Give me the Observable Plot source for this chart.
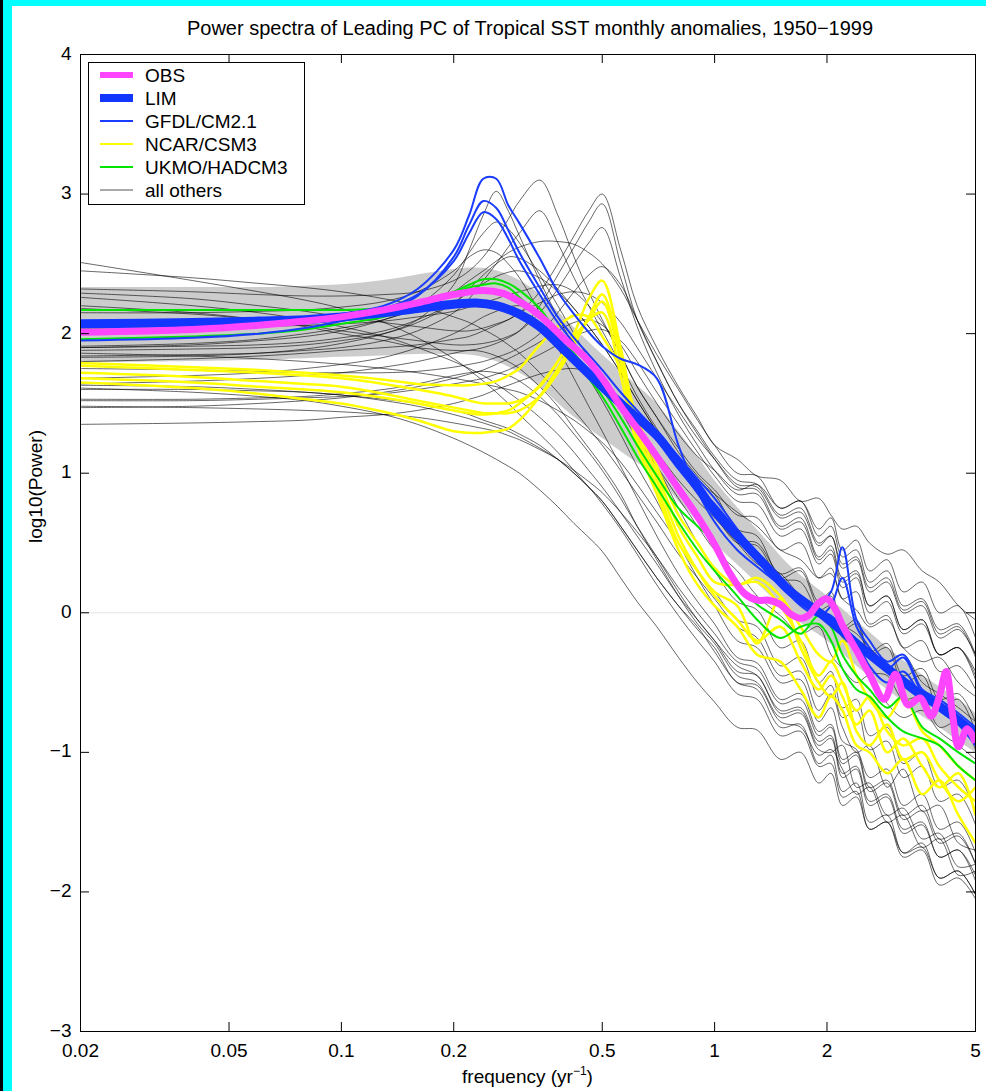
<!DOCTYPE html>
<html><head><meta charset="utf-8">
<script src="https://cdn.jsdelivr.net/npm/d3@7"></script>
<script src="https://cdn.jsdelivr.net/npm/@observablehq/plot@0.6"></script>
<style>
html,body{margin:0;padding:0;background:#fff;}
#page{position:relative;width:986px;height:1091px;overflow:hidden;background:#fff;font-family:"Liberation Sans",Arial,Helvetica,sans-serif;color:#000;}
#title{position:absolute;left:80px;width:900px;top:16px;text-align:center;font-size:20px;line-height:24px;white-space:nowrap;}
#chart{position:absolute;left:0;top:40px;}
#xlabel{position:absolute;left:80px;width:895px;top:1066px;text-align:center;font-size:19px;line-height:22px;white-space:nowrap;}
#xlabel sup{font-size:12px;vertical-align:8px;line-height:0;}
#legend{position:absolute;left:88px;top:62px;}
.deco{position:absolute;}
</style></head>
<body><div id="page">
<div class="deco" style="left:0;top:0;width:986px;height:6px;background:#00ffff"></div>
<div class="deco" style="left:0;top:0;width:12px;height:1091px;background:#00ffff"></div>
<div class="deco" style="left:0;top:0;width:3px;height:1091px;background:#000"></div>
<div id="title">Power spectra of Leading PC of Tropical SST monthly anomalies, 1950−1999</div>
<div id="chart"></div>
<div id="xlabel">frequency (yr<sup>−1</sup>)</div>
<div id="legend"></div>
</div>
<script>
// ---- frequency grids (yr^-1) ----
const G = [0.02,0.04,0.06,0.08,0.1,0.13,0.16,0.2,0.22,0.24,0.26,0.28,0.3,0.34,0.38,0.42,0.46,0.5,0.56,0.62,0.7,0.8,0.9,1.0,1.15,1.3,1.5,1.7,1.9,2.05,2.2,2.4,2.6,2.9,3.2,3.6,4.0,4.5,5.0];

// ---- OBS ----
const obsFreq = [0.02,0.04,0.06,0.08,0.1,0.13,0.16,0.2,0.24,0.27,0.3,0.34,0.4,0.45,0.5,0.56,0.62,0.7,0.8,0.9,1.0,1.1,1.2,1.3,1.4,1.5,1.6,1.7,1.8,1.9,2.0,2.1,2.2,2.4,2.6,2.85,3.05,3.3,3.55,3.8,4.0,4.17,4.35,4.5,4.75,5.0];
const obsPow = [2.01,2.03,2.06,2.09,2.12,2.17,2.22,2.28,2.31,2.29,2.23,2.13,1.95,1.83,1.68,1.48,1.32,1.12,0.89,0.69,0.49,0.28,0.14,0.09,0.09,0.06,-0.01,-0.04,-0.01,0.07,0.10,0.03,-0.09,-0.27,-0.44,-0.62,-0.44,-0.66,-0.61,-0.74,-0.6,-0.42,-0.75,-0.96,-0.83,-0.93];

// ---- LIM and its spread ----
const limFreq = [0.02,0.04,0.06,0.08,0.1,0.13,0.16,0.2,0.23,0.26,0.3,0.34,0.4,0.5,0.6,0.7,0.8,0.9,1.0,1.2,1.4,1.6,2.0,2.5,3.0,3.5,4.0,4.5,5.0];
const limPow = [2.07,2.08,2.09,2.10,2.12,2.15,2.18,2.21,2.22,2.20,2.14,2.05,1.87,1.62,1.43,1.27,1.07,0.9,0.73,0.5,0.31,0.15,-0.04,-0.26,-0.43,-0.57,-0.67,-0.77,-0.87];
const bandLo = [1.79,1.80,1.81,1.82,1.83,1.84,1.85,1.85,1.84,1.80,1.72,1.62,1.45,1.25,1.10,0.98,0.80,0.65,0.50,0.30,0.13,-0.02,-0.20,-0.42,-0.58,-0.72,-0.82,-0.92,-1.0];
const bandHi = [2.33,2.33,2.33,2.34,2.35,2.38,2.42,2.46,2.47,2.45,2.38,2.28,2.10,1.85,1.66,1.50,1.30,1.12,0.95,0.70,0.50,0.33,0.12,-0.10,-0.28,-0.42,-0.53,-0.62,-0.72];

// ---- GFDL/CM2.1 (on G) ----
const gfdl = [
 [2.07,2.08,2.09,2.11,2.14,2.2,2.32,2.6,2.85,3.11,3.11,2.92,2.79,2.54,2.3,2.14,2.01,1.91,1.82,1.78,1.68,1.2,0.87,0.65,0.45,0.33,0.2,0.1,0.02,-0.02,-0.1,-0.2,-0.38,-0.5,-0.42,-0.6,-0.68,-0.8,-0.95],
 [1.95,1.97,2.0,2.04,2.09,2.16,2.27,2.55,2.78,2.95,2.9,2.74,2.58,2.33,2.12,1.97,1.85,1.74,1.58,1.45,1.3,1.12,0.96,0.82,0.6,0.42,0.24,0.1,0.06,0.15,0.47,-0.05,-0.2,-0.35,-0.3,-0.55,-0.62,-0.72,-0.82],
 [2.05,2.06,2.07,2.09,2.12,2.18,2.28,2.52,2.72,2.87,2.82,2.68,2.52,2.28,2.08,1.93,1.8,1.68,1.52,1.4,1.25,1.05,0.9,0.78,0.58,0.38,0.2,0.05,-0.02,0.05,0.25,-0.1,-0.25,-0.4,-0.32,-0.58,-0.7,-0.8,-0.92]
];

// ---- NCAR/CSM3 (on G) ----
const ncar = [
 [1.79,1.76,1.74,1.72,1.7,1.67,1.64,1.63,1.63,1.64,1.66,1.7,1.75,1.92,2.05,2.13,2.12,1.98,1.75,1.4,1.05,0.7,0.5,0.32,0.2,0.25,0.12,-0.1,-0.3,-0.35,-0.2,-0.45,-0.62,-0.75,-0.6,-0.85,-0.95,-1.1,-1.2],
 [1.77,1.74,1.72,1.7,1.68,1.64,1.6,1.55,1.52,1.5,1.5,1.5,1.52,1.62,1.8,2.0,2.25,2.38,1.9,1.35,1.0,0.62,0.4,0.22,0.2,0.22,0.05,-0.2,-0.45,-0.35,-0.5,-0.7,-0.6,-0.85,-0.95,-0.9,-1.1,-1.25,-1.35],
 [1.72,1.69,1.66,1.64,1.62,1.57,1.52,1.47,1.45,1.43,1.43,1.43,1.45,1.55,1.72,1.92,2.12,2.28,1.85,1.3,0.95,0.55,0.3,0.12,-0.05,-0.2,-0.1,-0.35,-0.55,-0.45,-0.6,-0.8,-0.7,-1.0,-0.9,-1.1,-1.25,-1.15,-1.45],
 [1.68,1.65,1.62,1.6,1.58,1.54,1.5,1.45,1.43,1.42,1.43,1.45,1.5,1.63,1.8,1.98,2.1,2.23,1.8,1.25,0.9,0.5,0.3,0.15,0.05,-0.22,0.1,-0.25,-0.5,-0.6,-0.5,-0.85,-0.95,-0.8,-1.05,-1.0,-1.2,-1.35,-1.25],
 [1.65,1.61,1.57,1.53,1.5,1.44,1.38,1.3,1.29,1.29,1.3,1.32,1.38,1.55,1.75,1.95,2.1,2.15,1.7,1.2,0.85,0.45,0.2,0.05,-0.1,-0.3,-0.35,-0.55,-0.75,-0.6,-0.7,-0.95,-1.0,-1.15,-1.05,-1.3,-1.2,-1.45,-1.65]
];

// ---- UKMO/HADCM3 (on G) ----
const ukmo = [
 [2.17,2.17,2.17,2.17,2.17,2.18,2.2,2.3,2.35,2.39,2.39,2.36,2.31,2.18,2.0,1.86,1.72,1.6,1.4,1.2,0.98,0.75,0.62,0.5,0.2,0.06,-0.05,-0.15,-0.02,-0.1,-0.3,-0.45,-0.55,-0.68,-0.6,-0.82,-0.9,-1.0,-1.08],
 [1.96,1.98,2.0,2.03,2.07,2.12,2.2,2.29,2.33,2.35,2.36,2.33,2.26,2.12,1.97,1.82,1.68,1.55,1.33,1.12,0.9,0.65,0.45,0.3,0.12,-0.05,-0.18,-0.1,-0.08,-0.2,-0.4,-0.55,-0.6,-0.75,-0.85,-0.9,-0.95,-1.1,-1.2]
];

// ---- all other models (on G) ----
const others = [
 [2.51,2.38,2.3,2.24,2.18,2.08,1.97,1.82,1.74,1.66,1.58,1.5,1.42,1.28,1.15,1.02,0.9,0.8,0.62,0.45,0.25,0.05,-0.12,-0.25,-0.5,-0.52,-0.78,-0.82,-1.02,-0.98,-1.12,-1.3,-1.25,-1.5,-1.45,-1.68,-1.62,-1.88,-1.85],
 [2.45,2.4,2.36,2.33,2.3,2.25,2.2,2.12,2.08,2.03,1.98,1.92,1.86,1.72,1.58,1.45,1.32,1.2,1.02,0.85,0.65,0.42,0.25,0.1,-0.1,-0.18,-0.45,-0.42,-0.7,-0.58,-0.82,-1.0,-0.95,-1.25,-1.12,-1.42,-1.38,-1.65,-1.7],
 [2.32,2.3,2.28,2.27,2.27,2.28,2.3,2.38,2.45,2.55,2.68,2.82,2.95,3.1,2.85,2.55,2.3,2.1,1.85,1.62,1.4,1.15,0.98,0.85,0.6,0.55,0.25,0.22,0.02,0.05,-0.18,-0.25,-0.42,-0.45,-0.62,-0.6,-0.82,-0.78,-0.98],
 [2.29,2.25,2.2,2.16,2.12,2.08,2.05,2.02,2.02,2.04,2.07,2.1,2.15,2.3,2.5,2.7,2.88,3.0,2.6,2.2,1.9,1.62,1.4,1.2,1.1,0.98,0.95,0.8,0.82,0.7,0.6,0.62,0.5,0.42,0.45,0.3,0.22,0.05,-0.05],
 [2.2,2.15,2.1,2.05,2.0,1.95,1.9,1.88,1.88,1.9,1.93,1.97,2.02,2.2,2.42,2.62,2.8,2.93,2.5,2.1,1.8,1.5,1.3,1.12,0.95,0.92,0.7,0.75,0.5,0.55,0.35,0.4,0.18,0.25,0.02,0.08,-0.15,-0.1,-0.32],
 [2.18,2.14,2.1,2.06,2.02,1.98,1.95,1.92,1.92,1.93,1.95,1.98,2.02,2.15,2.32,2.5,2.65,2.76,2.4,2.05,1.72,1.42,1.2,1.02,0.85,0.85,0.6,0.65,0.38,0.45,0.22,0.28,0.05,0.12,-0.12,-0.05,-0.3,-0.25,-0.45],
 [1.91,1.93,1.96,2.0,2.04,2.1,2.18,2.3,2.38,2.45,2.52,2.58,2.62,2.66,2.66,2.64,2.58,2.5,2.32,2.1,1.85,1.6,1.38,1.2,1.0,0.98,0.75,0.8,0.55,0.62,0.4,0.45,0.22,0.3,0.05,0.1,-0.12,-0.08,-0.3],
 [1.9,1.92,1.95,1.98,2.02,2.1,2.2,2.42,2.58,2.72,2.8,2.75,2.65,2.42,2.2,2.0,1.82,1.68,1.45,1.25,1.05,0.82,0.62,0.45,0.3,0.12,-0.02,-0.15,-0.1,-0.3,-0.4,-0.5,-0.45,-0.65,-0.75,-0.7,-0.85,-0.95,-1.05],
 [1.88,1.89,1.9,1.92,1.95,2.0,2.08,2.22,2.32,2.42,2.5,2.55,2.54,2.45,2.32,2.18,2.05,1.92,1.72,1.52,1.3,1.05,0.85,0.7,0.5,0.48,0.25,0.3,0.05,0.12,-0.12,-0.08,-0.3,-0.25,-0.5,-0.45,-0.68,-0.62,-0.85],
 [1.84,1.85,1.86,1.88,1.9,1.95,2.02,2.15,2.25,2.38,2.5,2.62,2.72,2.88,2.65,2.4,2.2,2.02,1.78,1.55,1.32,1.1,0.95,0.85,0.72,0.62,0.45,0.38,0.25,0.28,0.1,0.02,-0.1,-0.05,-0.25,-0.35,-0.32,-0.5,-0.6],
 [1.8,1.82,1.84,1.86,1.88,1.9,1.92,1.96,1.98,2.02,2.06,2.1,2.15,2.22,2.28,2.3,2.28,2.22,2.08,1.9,1.68,1.45,1.25,1.1,0.92,0.9,0.68,0.72,0.48,0.55,0.32,0.38,0.15,0.22,0.0,0.05,-0.18,-0.12,-0.3],
 [1.75,1.74,1.73,1.72,1.72,1.72,1.73,1.76,1.78,1.8,1.83,1.86,1.9,2.0,2.15,2.3,2.42,2.48,2.35,2.1,1.8,1.5,1.28,1.1,0.9,0.88,0.62,0.68,0.4,0.48,0.25,0.3,0.05,0.12,-0.12,-0.05,-0.3,-0.25,-0.48],
 [1.68,1.7,1.72,1.75,1.78,1.83,1.9,2.0,2.06,2.12,2.16,2.19,2.2,2.15,2.02,1.85,1.68,1.52,1.28,1.05,0.8,0.5,0.25,0.05,-0.2,-0.25,-0.5,-0.48,-0.78,-0.68,-0.92,-0.98,-1.18,-1.12,-1.38,-1.3,-1.55,-1.5,-1.72],
 [1.64,1.66,1.68,1.7,1.72,1.76,1.8,1.86,1.88,1.87,1.84,1.8,1.75,1.62,1.48,1.32,1.18,1.05,0.85,0.62,0.38,0.12,-0.08,-0.22,-0.45,-0.5,-0.75,-0.72,-0.98,-1.0,-0.95,-1.25,-1.22,-1.45,-1.4,-1.62,-1.58,-1.82,-1.8],
 [1.61,1.58,1.55,1.52,1.48,1.42,1.35,1.25,1.2,1.15,1.1,1.05,1.0,0.88,0.76,0.64,0.54,0.44,0.25,0.08,-0.1,-0.32,-0.5,-0.64,-0.82,-0.84,-1.05,-1.0,-1.22,-1.15,-1.38,-1.32,-1.55,-1.5,-1.72,-1.68,-1.9,-1.85,-2.02],
 [1.53,1.53,1.54,1.55,1.57,1.6,1.64,1.7,1.72,1.73,1.72,1.7,1.66,1.55,1.42,1.28,1.15,1.02,0.82,0.62,0.4,0.15,-0.05,-0.2,-0.38,-0.45,-0.7,-0.68,-0.92,-0.88,-1.15,-1.1,-1.35,-1.3,-1.55,-1.5,-1.75,-1.7,-1.92],
 [1.52,1.52,1.53,1.54,1.55,1.57,1.6,1.64,1.66,1.68,1.71,1.74,1.78,1.85,1.92,1.98,2.02,2.03,1.95,1.8,1.58,1.35,1.15,0.98,0.8,0.78,0.55,0.6,0.35,0.42,0.18,0.25,0.0,0.08,-0.15,-0.08,-0.3,-0.25,-0.42],
 [1.48,1.47,1.46,1.45,1.44,1.42,1.4,1.36,1.34,1.32,1.3,1.27,1.24,1.17,1.1,1.02,0.94,0.86,0.72,0.58,0.4,0.18,0.0,-0.15,-0.35,-0.4,-0.65,-0.62,-0.88,-0.82,-1.08,-1.02,-1.28,-1.22,-1.48,-1.42,-1.65,-1.6,-1.8],
 [1.35,1.36,1.37,1.38,1.4,1.42,1.45,1.5,1.53,1.56,1.6,1.63,1.66,1.71,1.74,1.75,1.72,1.66,1.5,1.3,1.05,0.75,0.5,0.3,0.08,0.02,-0.25,-0.2,-0.5,-0.42,-0.68,-0.62,-0.88,-0.82,-1.08,-1.0,-1.25,-1.2,-1.42],
 [1.6,1.6,1.59,1.58,1.56,1.53,1.5,1.45,1.42,1.38,1.35,1.32,1.28,1.2,1.1,1.0,0.9,0.8,0.62,0.45,0.25,0.05,-0.1,-0.28,-0.5,-0.55,-0.82,-0.8,-1.08,-1.02,-1.28,-1.22,-1.5,-1.45,-1.72,-1.65,-1.9,-1.85,-2.02],
 [1.9,1.91,1.92,1.94,1.97,2.02,2.1,2.22,2.3,2.36,2.41,2.44,2.45,2.4,2.3,2.18,2.05,1.92,1.72,1.52,1.3,1.05,0.88,0.72,0.52,0.5,0.28,0.32,0.08,0.15,-0.1,-0.05,-0.28,-0.22,-0.45,-0.4,-0.62,-0.58,-0.78],
 [2.26,2.2,2.15,2.1,2.05,1.98,1.9,1.8,1.75,1.7,1.64,1.58,1.52,1.4,1.28,1.15,1.02,0.9,0.72,0.55,0.35,0.12,-0.05,-0.2,-0.42,-0.45,-0.72,-0.7,-0.95,-0.9,-1.18,-1.12,-1.38,-1.32,-1.58,-1.52,-1.75,-1.7,-1.88],
 [2.04,2.04,2.05,2.06,2.07,2.09,2.12,2.16,2.19,2.22,2.25,2.28,2.3,2.34,2.35,2.3,2.2,2.08,1.85,1.62,1.4,1.18,1.0,0.88,0.7,0.68,0.45,0.5,0.25,0.32,0.1,0.15,-0.08,-0.02,-0.25,-0.2,-0.42,-0.38,-0.55],
 [1.86,1.84,1.82,1.8,1.78,1.75,1.72,1.68,1.66,1.64,1.62,1.6,1.58,1.52,1.45,1.38,1.3,1.22,1.08,0.92,0.72,0.5,0.3,0.15,-0.05,-0.1,-0.38,-0.32,-0.6,-0.52,-0.75,-0.7,-0.98,-0.92,-1.18,-1.1,-1.35,-1.3,-1.52],
 [1.47,1.48,1.5,1.52,1.54,1.58,1.62,1.68,1.71,1.74,1.78,1.82,1.86,1.94,2.02,2.08,2.1,2.06,1.92,1.72,1.5,1.28,1.12,1.02,0.88,0.92,0.75,0.8,0.6,0.68,0.45,0.52,0.3,0.38,0.15,0.22,0.0,0.05,-0.18],
 [2.15,2.15,2.16,2.17,2.19,2.23,2.3,2.45,2.55,2.6,2.58,2.5,2.4,2.15,1.9,1.68,1.48,1.3,1.05,0.82,0.55,0.28,0.08,-0.08,-0.32,-0.36,-0.62,-0.58,-0.85,-0.8,-1.05,-1.0,-1.25,-1.2,-1.45,-1.38,-1.62,-1.58,-1.8],
 [1.83,1.84,1.86,1.89,1.93,2.0,2.1,2.35,2.6,2.85,3.02,2.88,2.7,2.38,2.12,1.92,1.78,1.65,1.48,1.32,1.15,0.95,0.8,0.68,0.5,0.35,0.28,0.12,0.05,0.1,-0.08,-0.15,-0.25,-0.35,-0.3,-0.5,-0.58,-0.68,-0.78],
 [1.63,1.62,1.6,1.58,1.56,1.52,1.48,1.42,1.39,1.36,1.33,1.3,1.26,1.18,1.1,1.0,0.9,0.78,0.6,0.42,0.2,-0.02,-0.2,-0.35,-0.58,-0.62,-0.88,-0.85,-1.1,-1.08,-1.32,-1.28,-1.55,-1.5,-1.75,-1.7,-1.95,-1.9,-2.05]
];

// ---- axis ticks and labels ----
const xTicks = [0.02,0.05,0.1,0.2,0.5,1,2,5];
const yTicks = [-3,-2,-1,0,1,2,3,4];
const legendItems = [
  {label:"OBS", color:"#ff45ff", width:6},
  {label:"LIM", color:"#1236ff", width:8},
  {label:"GFDL/CM2.1", color:"#1a3cff", width:2},
  {label:"NCAR/CSM3", color:"#ffff00", width:2},
  {label:"UKMO/HADCM3", color:"#00e400", width:2},
  {label:"all others", color:"#555555", width:1}
];

function toRows(series, freq, group) {
  const out = [];
  series.forEach((vals, k) => {
    const n = Math.min(vals.length, freq.length);
    for (let i = 0; i < n; i++) out.push({f: freq[i], p: vals[i], id: group + k});
  });
  return out;
}
const othersRows = toRows(others, G, "o");
const ncarRows = toRows(ncar, G, "n");
const ukmoRows = toRows(ukmo, G, "u");
const gfdlRows = toRows(gfdl, G, "g");
const limRows = toRows([limPow], limFreq, "lim");
const obsRows = toRows([obsPow], obsFreq, "obs");
const bandRows = limFreq.map((f, i) => ({f, lo: bandLo[i], hi: bandHi[i]}));

const W = 986, H = 1051, mL = 80, mR = 11, mT = 14, mB = 60, TICK = 9;
const plotW = W - mL - mR, plotH = H - mT - mB;
const fmtY = d => d < 0 ? "\u2212" + Math.abs(d) : String(d);
const curve = "catmull-rom";
const lineOpts = {x: "f", y: "p", z: "id", curve, clip: true, strokeLinecap: "butt"};

const chart = Plot.plot({
  width: W, height: H,
  marginLeft: mL, marginRight: mR, marginTop: mT, marginBottom: mB,
  x: {type: "log", domain: [0.02, 5], axis: null},
  y: {domain: [-3, 4], axis: null},
  style: {fontFamily: '"Liberation Sans", Arial, Helvetica, sans-serif', fontSize: "19px", color: "#000", background: "transparent", overflow: "visible"},
  marks: [
    Plot.ruleY([0], {stroke: "#e4e4e4", strokeWidth: 1}),
    Plot.areaY(bandRows, {x: "f", y1: "lo", y2: "hi", fill: "#cccccc", curve, clip: true}),
    Plot.line(othersRows, {...lineOpts, stroke: "#000", strokeWidth: 0.8, strokeOpacity: 0.75}),
    Plot.line(ncarRows, {...lineOpts, stroke: "#ffff00", strokeWidth: 2.5}),
    Plot.line(ukmoRows, {...lineOpts, stroke: "#00e400", strokeWidth: 2}),
    Plot.line(gfdlRows, {...lineOpts, stroke: "#1a3cff", strokeWidth: 2}),
    Plot.line(limRows, {...lineOpts, stroke: "#1236ff", strokeWidth: 9}),
    Plot.line(obsRows, {...lineOpts, stroke: "#ff45ff", strokeWidth: 7}),
    Plot.frame({stroke: "#000", strokeWidth: 1}),
    Plot.tickX(xTicks, {x: d => d, insetTop: plotH - TICK, stroke: "#000"}),
    Plot.tickX(xTicks, {x: d => d, insetBottom: plotH - TICK, stroke: "#000"}),
    Plot.tickY(yTicks, {y: d => d, insetRight: plotW - TICK, stroke: "#000"}),
    Plot.tickY(yTicks, {y: d => d, insetLeft: plotW - TICK, stroke: "#000"}),
    Plot.text(xTicks, {x: d => d, text: d => String(d), frameAnchor: "bottom", lineAnchor: "top", dy: 12, fontSize: 19, fill: "#000"}),
    Plot.text(yTicks, {y: d => d, text: fmtY, frameAnchor: "left", dx: -9, dy: -1, textAnchor: "end", fontSize: 19, fill: "#000"}),
    Plot.text(["log10(Power)"], {frameAnchor: "left", dx: -45, rotate: -90, fontSize: 19, fill: "#000"})
  ]
});
document.getElementById("chart").appendChild(chart);

// ---- legend ----
const LW = 217, LH = 143;
const ns = "http://www.w3.org/2000/svg";
const lsvg = document.createElementNS(ns, "svg");
lsvg.setAttribute("width", LW); lsvg.setAttribute("height", LH);
lsvg.style.display = "block";
const box = document.createElementNS(ns, "rect");
box.setAttribute("x", 0.5); box.setAttribute("y", 0.5); box.setAttribute("width", LW - 1); box.setAttribute("height", LH - 1);
box.setAttribute("fill", "#fff"); box.setAttribute("stroke", "#000");
lsvg.appendChild(box);
legendItems.forEach((it, i) => {
  const cy = 13 + i * 23;
  const ln = document.createElementNS(ns, "line");
  ln.setAttribute("x1", 12); ln.setAttribute("x2", 45); ln.setAttribute("y1", cy); ln.setAttribute("y2", cy);
  ln.setAttribute("stroke", it.color); ln.setAttribute("stroke-width", it.width);
  lsvg.appendChild(ln);
  const tx = document.createElementNS(ns, "text");
  tx.setAttribute("x", 57); tx.setAttribute("y", cy); tx.setAttribute("dy", "0.35em");
  tx.setAttribute("font-family", '"Liberation Sans", Arial, Helvetica, sans-serif');
  tx.setAttribute("font-size", "19");
  tx.textContent = it.label;
  lsvg.appendChild(tx);
});
document.getElementById("legend").appendChild(lsvg);
</script>
</body></html>
